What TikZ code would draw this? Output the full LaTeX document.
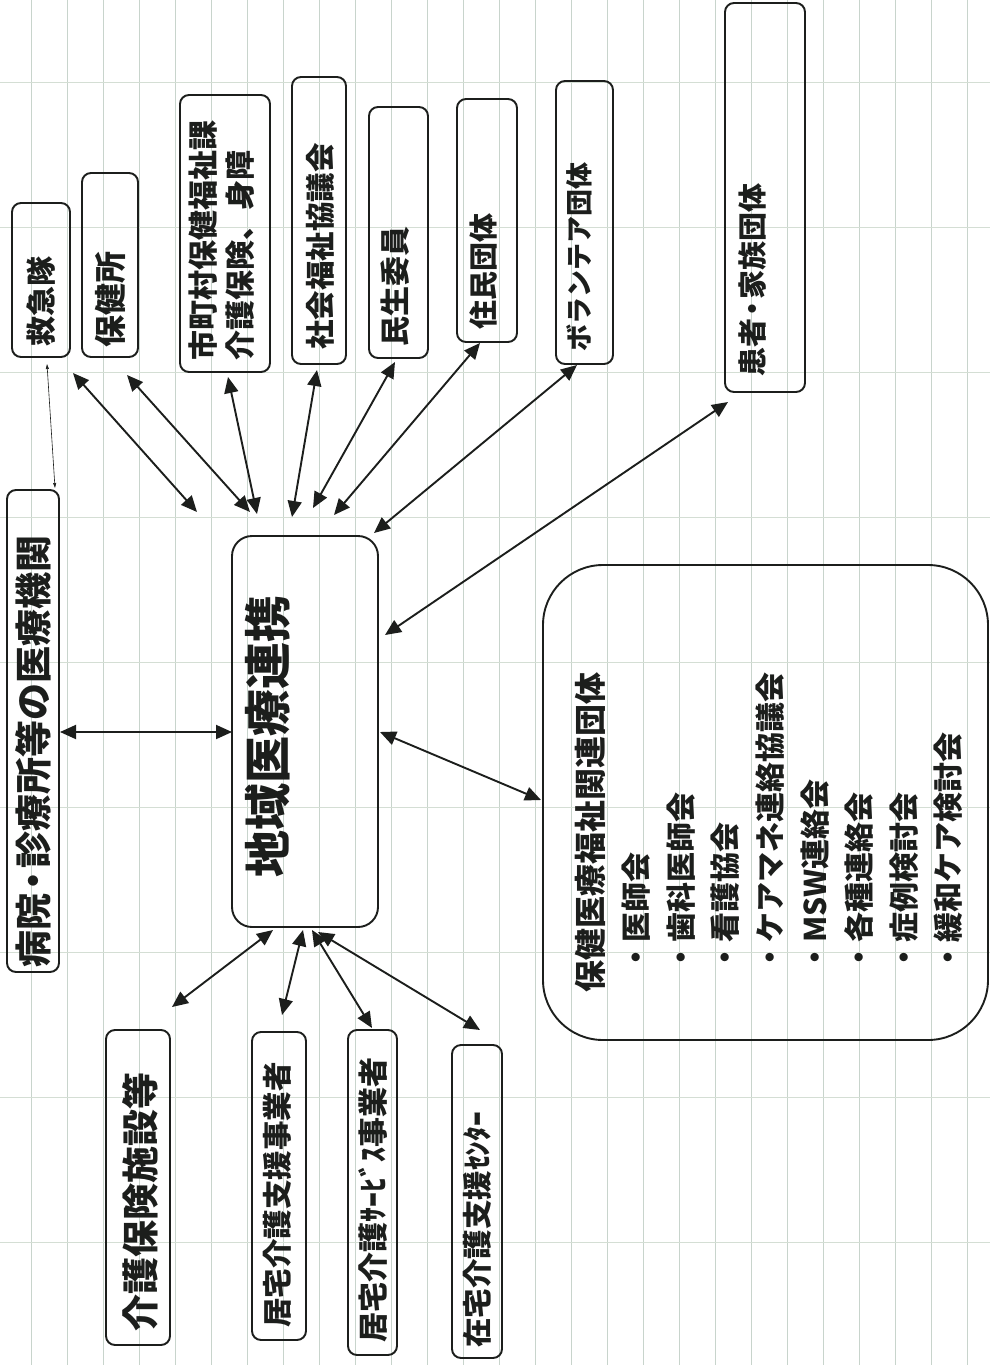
\documentclass[tikz,border=0pt]{standalone}
\usepackage{fontspec}
\setmainfont{Noto Sans CJK JP}
\usetikzlibrary{arrows.meta}
\definecolor{ink}{RGB}{28,30,28}
\definecolor{gridv}{RGB}{200,212,204}
\definecolor{gridh}{RGB}{212,222,212}
\begin{document}
\begin{tikzpicture}[x=1pt,y=-1pt,
  box/.style={draw=ink,line width=1.9pt,rounded corners=9pt,inner sep=0pt},
  lbl/.style={rotate=90,anchor=west,inner sep=0pt,text=ink},
  arr/.style={draw=ink,line width=1.9pt,{Triangle[length=16pt,width=14pt]}-{Triangle[length=16pt,width=14pt]}},
  thinarr/.style={draw=ink,line width=0.6pt,{Triangle[length=5pt,width=3pt]}-{Triangle[length=5pt,width=3pt]}}
  ]
\useasboundingbox (0,0) rectangle (990,1365);
\fill[white] (0,0) rectangle (990,1365);
% grid paper
\foreach \k in {0,...,26} \draw[gridv,line width=0.9pt] ({31+36*\k},0) -- ({31+36*\k},1365);
\foreach \k in {0,...,8} \draw[gridh,line width=0.9pt] (0,{82+145*\k}) -- (990,{82+145*\k});

% boxes
\node[box,minimum width=52pt,minimum height=482pt] (byoin) at (33,731) {};
\node[box,rounded corners=20pt,minimum width=146pt,minimum height=391pt] (chiiki) at (305,731.5) {};
\node[box,minimum width=58pt,minimum height=154pt] (kyu) at (41,280) {};
\node[box,minimum width=56pt,minimum height=184pt] (hoken) at (110,265) {};
\node[box,minimum width=90pt,minimum height=277pt] (shi) at (225,233.5) {};
\node[box,minimum width=54pt,minimum height=287pt] (shakyo) at (319,220.5) {};
\node[box,minimum width=59pt,minimum height=251pt] (minsei) at (398.5,232.5) {};
\node[box,minimum width=60pt,minimum height=243pt] (jumin) at (487,220.5) {};
\node[box,minimum width=57pt,minimum height=283pt] (vol) at (584.5,222.5) {};
\node[box,minimum width=80pt,minimum height=389pt] (kanja) at (765,197.5) {};
\node[box,rounded corners=60pt,minimum width=445pt,minimum height=475pt] (hoiku) at (765.5,802.5) {};
\node[box,minimum width=64pt,minimum height=315pt] (kaigo) at (138,1187.5) {};
\node[box,minimum width=54pt,minimum height=308pt] (kyotakuA) at (279,1186) {};
\node[box,minimum width=49pt,minimum height=325pt] (kyotakuB) at (372.5,1192.5) {};
\node[box,minimum width=50pt,minimum height=313pt] (zaitaku) at (477,1201.5) {};

% labels
\node[lbl,font=\bfseries\fontsize{37}{44}\selectfont] (tbyoin) at (33,968) {病院\kern-6pt・\kern-6pt 診療所等の医療機関};
\node[lbl,font=\bfseries\fontsize{47}{56}\selectfont] (tchiiki) at (268,878) {地域医療連携};
\node[lbl,font=\bfseries\fontsize{30}{36}\selectfont] (tkyu) at (41,347) {救急隊};
\node[lbl,font=\bfseries\fontsize{32}{38}\selectfont] (thoken) at (110,348) {保健所};
\node[lbl,align=left,font=\bfseries\fontsize{30}{37}\selectfont] (tshi) at (221.5,361) {市町村保健福祉課\\介護保険、身障};
\node[lbl,font=\bfseries\fontsize{29.5}{36}\selectfont] (tshakyo) at (320,350) {社会福祉協議会};
\node[lbl,font=\bfseries\fontsize{30}{36}\selectfont] (tminsei) at (395,347) {民生委員};
\node[lbl,font=\bfseries\fontsize{29}{36}\selectfont] (tjumin) at (483,330) {住民団体};
\node[lbl,font=\bfseries\fontsize{27}{34}\selectfont] (tvol) at (579,352) {ボランテア団体};
\node[lbl,font=\bfseries\fontsize{29}{34}\selectfont] (tkanja) at (752,377) {患者\kern-5pt・\kern-5pt 家族団体};
\node[lbl,font=\bfseries\fontsize{32}{38}\selectfont] (thoiku) at (590,993) {保健医療福祉関連団体};
\node[lbl,align=left,font=\bfseries\fontsize{30}{44.6}\selectfont] (tlist) at (792.5,973) {・医師会\\・歯科医師会\\・看護協会\\・ケアマネ連絡協議会\\・MSW連絡会\\・各種連絡会\\・症例検討会\\・緩和ケア検討会};
\node[lbl,font=\bfseries\fontsize{37}{44}\selectfont] (tkaigo) at (140,1332) {介護保険施設等};
\node[lbl,font=\bfseries\fontsize{29.5}{36}\selectfont] (tkyotakuA) at (277,1328) {居宅介護支援事業者};
\node[lbl,font=\bfseries\fontsize{30}{36}\selectfont] (tkyotakuB) at (373,1343) {居宅介護ｻｰﾋﾞｽ事業者};
\node[lbl,font=\bfseries\fontsize{29.5}{36}\selectfont] (tzaitaku) at (477,1348) {在宅介護支援ｾﾝﾀｰ};

% connector end points
\coordinate (e1) at (73,373);   \coordinate (f1) at (197,512);
\coordinate (e2) at (127,375);  \coordinate (f2) at (250,512);
\coordinate (e3) at (228,377);  \coordinate (f3) at (257,514);
\coordinate (e4) at (317,370);  \coordinate (f4) at (292,517);
\coordinate (e5) at (395,362);  \coordinate (f5) at (313,508);
\coordinate (e6) at (480,343);  \coordinate (f6) at (334,515);
\coordinate (e7) at (577,365);  \coordinate (f7) at (374,533);
\coordinate (e8) at (728,402);  \coordinate (f8) at (385,635);
\coordinate (e9) at (60,732);   \coordinate (f9) at (232,732);
\coordinate (e10) at (380,732); \coordinate (f10) at (541,800);
\coordinate (g1) at (273,930);  \coordinate (h1) at (172,1007);
\coordinate (g2) at (303,930);  \coordinate (h2) at (282,1015);
\coordinate (g3) at (312,930);  \coordinate (h3) at (372,1028);
\coordinate (g4) at (318,932);  \coordinate (h4) at (480,1030);
\coordinate (k1) at (47,364);   \coordinate (k2) at (55,488);

\draw[arr] (e1) -- (f1);
\draw[arr] (e2) -- (f2);
\draw[arr] (e3) -- (f3);
\draw[arr] (e4) -- (f4);
\draw[arr] (e5) -- (f5);
\draw[arr] (e6) -- (f6);
\draw[arr] (e7) -- (f7);
\draw[arr] (e8) -- (f8);
\draw[arr] (e9) -- (f9);
\draw[arr] (e10) -- (f10);
\draw[arr] (g1) -- (h1);
\draw[arr] (g2) -- (h2);
\draw[arr] (g3) -- (h3);
\draw[arr] (g4) -- (h4);
\draw[thinarr] (k1) -- (k2);
\end{tikzpicture}
\end{document}
